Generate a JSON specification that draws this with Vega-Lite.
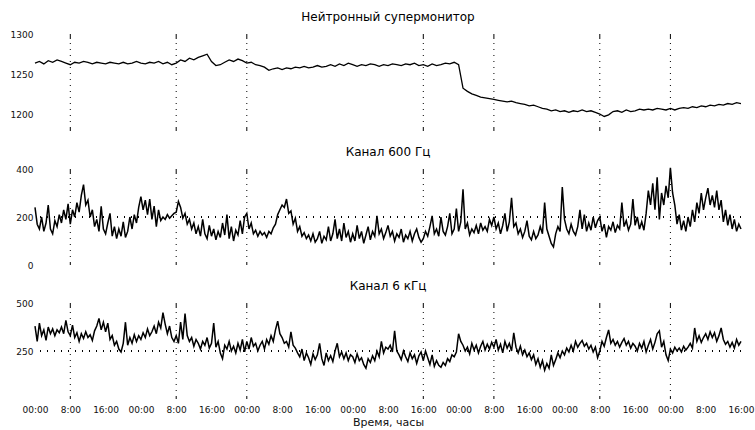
{
"$schema": "https://vega.github.io/schema/vega-lite/v6.json",
"padding": {"top": 11, "left": 10, "right": 5, "bottom": 2},
"background": "white",
"bounds": "flush",
"spacing": 38,
"datasets": {
"ev": [{"t":8},{"t":32},{"t":48},{"t":88},{"t":104},{"t":128},{"t":144}],
"nm": [
{"t":0,"v":1264},{"t":1,"v":1266},{"t":2,"v":1263},{"t":3,"v":1267},{"t":4,"v":1265},{"t":5,"v":1268},{"t":6,"v":1266},{"t":7,"v":1264},{"t":8,"v":1262},{"t":9,"v":1265},
{"t":10,"v":1264},{"t":11,"v":1266},{"t":12,"v":1265},{"t":13,"v":1263},{"t":14,"v":1265},{"t":15,"v":1264},{"t":16,"v":1263},{"t":17,"v":1265},{"t":18,"v":1264},{"t":19,"v":1263},
{"t":20,"v":1265},{"t":21,"v":1263},{"t":22,"v":1264},{"t":23,"v":1266},{"t":24,"v":1264},{"t":25,"v":1263},{"t":26,"v":1265},{"t":27,"v":1264},{"t":28,"v":1266},{"t":29,"v":1263},
{"t":30,"v":1265},{"t":31,"v":1262},{"t":32,"v":1264},{"t":33,"v":1268},{"t":34,"v":1266},{"t":35,"v":1270},{"t":36,"v":1268},{"t":37,"v":1271},{"t":38,"v":1273},{"t":39,"v":1275},
{"t":40,"v":1266},{"t":41,"v":1261},{"t":42,"v":1262},{"t":43,"v":1265},{"t":44,"v":1268},{"t":45,"v":1266},{"t":46,"v":1269},{"t":47,"v":1267},{"t":48,"v":1264},{"t":49,"v":1265},
{"t":50,"v":1262},{"t":51,"v":1261},{"t":52,"v":1259},{"t":53,"v":1255},{"t":54,"v":1257},{"t":55,"v":1258},{"t":56,"v":1256},{"t":57,"v":1258},{"t":58,"v":1257},{"t":59,"v":1259},
{"t":60,"v":1258},{"t":61,"v":1260},{"t":62,"v":1258},{"t":63,"v":1259},{"t":64,"v":1261},{"t":65,"v":1259},{"t":66,"v":1260},{"t":67,"v":1262},{"t":68,"v":1260},{"t":69,"v":1263},
{"t":70,"v":1261},{"t":71,"v":1264},{"t":72,"v":1262},{"t":73,"v":1260},{"t":74,"v":1262},{"t":75,"v":1261},{"t":76,"v":1263},{"t":77,"v":1262},{"t":78,"v":1260},{"t":79,"v":1262},
{"t":80,"v":1261},{"t":81,"v":1263},{"t":82,"v":1262},{"t":83,"v":1261},{"t":84,"v":1263},{"t":85,"v":1262},{"t":86,"v":1264},{"t":87,"v":1261},{"t":88,"v":1262},{"t":89,"v":1260},
{"t":90,"v":1263},{"t":91,"v":1261},{"t":92,"v":1262},{"t":93,"v":1264},{"t":94,"v":1263},{"t":95,"v":1265},{"t":96,"v":1262},{"t":97,"v":1233},{"t":98,"v":1229},{"t":99,"v":1226},
{"t":100,"v":1224},{"t":101,"v":1222},{"t":102,"v":1221},{"t":103,"v":1220},{"t":104,"v":1219},{"t":105,"v":1218},{"t":106,"v":1217},{"t":107,"v":1216},{"t":108,"v":1217},{"t":109,"v":1215},
{"t":110,"v":1214},{"t":111,"v":1213},{"t":112,"v":1211},{"t":113,"v":1212},{"t":114,"v":1210},{"t":115,"v":1208},{"t":116,"v":1207},{"t":117,"v":1205},{"t":118,"v":1206},{"t":119,"v":1204},
{"t":120,"v":1205},{"t":121,"v":1203},{"t":122,"v":1205},{"t":123,"v":1204},{"t":124,"v":1206},{"t":125,"v":1204},{"t":126,"v":1205},{"t":127,"v":1203},{"t":128,"v":1201},{"t":129,"v":1198},
{"t":130,"v":1200},{"t":131,"v":1204},{"t":132,"v":1205},{"t":133,"v":1203},{"t":134,"v":1206},{"t":135,"v":1204},{"t":136,"v":1205},{"t":137,"v":1207},{"t":138,"v":1206},{"t":139,"v":1207},
{"t":140,"v":1206},{"t":141,"v":1208},{"t":142,"v":1207},{"t":143,"v":1206},{"t":144,"v":1208},{"t":145,"v":1206},{"t":146,"v":1208},{"t":147,"v":1209},{"t":148,"v":1208},{"t":149,"v":1210},
{"t":150,"v":1209},{"t":151,"v":1211},{"t":152,"v":1210},{"t":153,"v":1212},{"t":154,"v":1211},{"t":155,"v":1213},{"t":156,"v":1212},{"t":157,"v":1214},{"t":158,"v":1213},{"t":159,"v":1215},
{"t":160,"v":1214}
],
"a": [
{"t":0,"v":240},{"t":0.5,"v":170},{"t":1,"v":150},{"t":1.5,"v":200},{"t":2,"v":140},{"t":2.5,"v":175},{"t":3,"v":250},{"t":3.5,"v":150},{"t":4,"v":130},{"t":4.5,"v":185},{"t":5,"v":160},{"t":5.5,"v":210},{"t":6,"v":175},{"t":6.5,"v":230},{"t":7,"v":190},{"t":7.5,"v":255},
{"t":8,"v":170},{"t":8.5,"v":230},{"t":9,"v":200},{"t":9.5,"v":260},{"t":10,"v":220},{"t":10.5,"v":290},{"t":11,"v":335},{"t":11.5,"v":250},{"t":12,"v":270},{"t":12.5,"v":200},{"t":13,"v":230},{"t":13.5,"v":160},{"t":14,"v":190},{"t":14.5,"v":140},{"t":15,"v":245},{"t":15.5,"v":150},
{"t":16,"v":130},{"t":16.5,"v":175},{"t":17,"v":215},{"t":17.5,"v":120},{"t":18,"v":160},{"t":18.5,"v":110},{"t":19,"v":150},{"t":19.5,"v":120},{"t":20,"v":180},{"t":20.5,"v":115},{"t":21,"v":140},{"t":21.5,"v":200},{"t":22,"v":150},{"t":22.5,"v":210},{"t":23,"v":175},{"t":23.5,"v":240},
{"t":24,"v":285},{"t":24.5,"v":230},{"t":25,"v":270},{"t":25.5,"v":210},{"t":26,"v":275},{"t":26.5,"v":190},{"t":27,"v":245},{"t":27.5,"v":160},{"t":28,"v":230},{"t":28.5,"v":185},{"t":29,"v":200},{"t":29.5,"v":190},{"t":30,"v":210},{"t":30.5,"v":195},{"t":31,"v":205},{"t":31.5,"v":215},
{"t":32,"v":220},{"t":32.5,"v":265},{"t":33,"v":240},{"t":33.5,"v":195},{"t":34,"v":215},{"t":34.5,"v":170},{"t":35,"v":190},{"t":35.5,"v":150},{"t":36,"v":175},{"t":36.5,"v":130},{"t":37,"v":160},{"t":37.5,"v":120},{"t":38,"v":190},{"t":38.5,"v":130},{"t":39,"v":110},{"t":39.5,"v":165},
{"t":40,"v":120},{"t":40.5,"v":150},{"t":41,"v":105},{"t":41.5,"v":140},{"t":42,"v":115},{"t":42.5,"v":175},{"t":43,"v":125},{"t":43.5,"v":210},{"t":44,"v":110},{"t":44.5,"v":160},{"t":45,"v":100},{"t":45.5,"v":145},{"t":46,"v":125},{"t":46.5,"v":185},{"t":47,"v":130},{"t":47.5,"v":200},
{"t":48,"v":215},{"t":48.5,"v":150},{"t":49,"v":175},{"t":49.5,"v":130},{"t":50,"v":145},{"t":50.5,"v":120},{"t":51,"v":140},{"t":51.5,"v":125},{"t":52,"v":135},{"t":52.5,"v":115},{"t":53,"v":140},{"t":53.5,"v":130},{"t":54,"v":155},{"t":54.5,"v":170},{"t":55,"v":210},{"t":55.5,"v":230},
{"t":56,"v":250},{"t":56.5,"v":240},{"t":57,"v":275},{"t":57.5,"v":215},{"t":58,"v":225},{"t":58.5,"v":170},{"t":59,"v":195},{"t":59.5,"v":140},{"t":60,"v":160},{"t":60.5,"v":120},{"t":61,"v":135},{"t":61.5,"v":110},{"t":62,"v":125},{"t":62.5,"v":100},{"t":63,"v":130},{"t":63.5,"v":95},
{"t":64,"v":110},{"t":64.5,"v":140},{"t":65,"v":90},{"t":65.5,"v":120},{"t":66,"v":105},{"t":66.5,"v":160},{"t":67,"v":100},{"t":67.5,"v":130},{"t":68,"v":190},{"t":68.5,"v":110},{"t":69,"v":150},{"t":69.5,"v":100},{"t":70,"v":175},{"t":70.5,"v":115},{"t":71,"v":140},{"t":71.5,"v":95},
{"t":72,"v":130},{"t":72.5,"v":100},{"t":73,"v":165},{"t":73.5,"v":110},{"t":74,"v":140},{"t":74.5,"v":90},{"t":75,"v":125},{"t":75.5,"v":160},{"t":76,"v":105},{"t":76.5,"v":140},{"t":77,"v":120},{"t":77.5,"v":205},{"t":78,"v":130},{"t":78.5,"v":150},{"t":79,"v":110},{"t":79.5,"v":135},
{"t":80,"v":165},{"t":80.5,"v":120},{"t":81,"v":140},{"t":81.5,"v":100},{"t":82,"v":130},{"t":82.5,"v":115},{"t":83,"v":150},{"t":83.5,"v":95},{"t":84,"v":125},{"t":84.5,"v":110},{"t":85,"v":140},{"t":85.5,"v":100},{"t":86,"v":130},{"t":86.5,"v":150},{"t":87,"v":115},{"t":87.5,"v":95},
{"t":88,"v":110},{"t":88.5,"v":140},{"t":89,"v":120},{"t":89.5,"v":160},{"t":90,"v":205},{"t":90.5,"v":130},{"t":91,"v":150},{"t":91.5,"v":120},{"t":92,"v":200},{"t":92.5,"v":140},{"t":93,"v":125},{"t":93.5,"v":160},{"t":94,"v":215},{"t":94.5,"v":130},{"t":95,"v":150},{"t":95.5,"v":235},
{"t":96,"v":140},{"t":96.5,"v":180},{"t":97,"v":315},{"t":97.5,"v":150},{"t":98,"v":175},{"t":98.5,"v":125},{"t":99,"v":150},{"t":99.5,"v":135},{"t":100,"v":165},{"t":100.5,"v":130},{"t":101,"v":175},{"t":101.5,"v":145},{"t":102,"v":160},{"t":102.5,"v":140},{"t":103,"v":190},{"t":103.5,"v":165},
{"t":104,"v":200},{"t":104.5,"v":150},{"t":105,"v":175},{"t":105.5,"v":130},{"t":106,"v":165},{"t":106.5,"v":215},{"t":107,"v":140},{"t":107.5,"v":180},{"t":108,"v":280},{"t":108.5,"v":160},{"t":109,"v":175},{"t":109.5,"v":130},{"t":110,"v":150},{"t":110.5,"v":115},{"t":111,"v":140},{"t":111.5,"v":185},
{"t":112,"v":120},{"t":112.5,"v":105},{"t":113,"v":140},{"t":113.5,"v":110},{"t":114,"v":125},{"t":114.5,"v":160},{"t":115,"v":130},{"t":115.5,"v":260},{"t":116,"v":150},{"t":116.5,"v":120},{"t":117,"v":90},{"t":117.5,"v":75},{"t":118,"v":130},{"t":118.5,"v":160},{"t":119,"v":140},{"t":119.5,"v":325},
{"t":120,"v":190},{"t":120.5,"v":150},{"t":121,"v":130},{"t":121.5,"v":170},{"t":122,"v":140},{"t":122.5,"v":125},{"t":123,"v":160},{"t":123.5,"v":230},{"t":124,"v":150},{"t":124.5,"v":210},{"t":125,"v":140},{"t":125.5,"v":175},{"t":126,"v":145},{"t":126.5,"v":200},{"t":127,"v":155},{"t":127.5,"v":185},
{"t":128,"v":200},{"t":128.5,"v":140},{"t":129,"v":170},{"t":129.5,"v":115},{"t":130,"v":160},{"t":130.5,"v":145},{"t":131,"v":180},{"t":131.5,"v":135},{"t":132,"v":165},{"t":132.5,"v":150},{"t":133,"v":260},{"t":133.5,"v":160},{"t":134,"v":185},{"t":134.5,"v":145},{"t":135,"v":170},{"t":135.5,"v":275},
{"t":136,"v":165},{"t":136.5,"v":200},{"t":137,"v":150},{"t":137.5,"v":180},{"t":138,"v":145},{"t":138.5,"v":215},{"t":139,"v":310},{"t":139.5,"v":250},{"t":140,"v":340},{"t":140.5,"v":230},{"t":141,"v":365},{"t":141.5,"v":190},{"t":142,"v":300},{"t":142.5,"v":250},{"t":143,"v":330},{"t":143.5,"v":280},
{"t":144,"v":405},{"t":144.5,"v":300},{"t":145,"v":250},{"t":145.5,"v":170},{"t":146,"v":210},{"t":146.5,"v":145},{"t":147,"v":185},{"t":147.5,"v":140},{"t":148,"v":200},{"t":148.5,"v":160},{"t":149,"v":230},{"t":149.5,"v":180},{"t":150,"v":260},{"t":150.5,"v":215},{"t":151,"v":300},{"t":151.5,"v":230},
{"t":152,"v":280},{"t":152.5,"v":320},{"t":153,"v":250},{"t":153.5,"v":290},{"t":154,"v":240},{"t":154.5,"v":310},{"t":155,"v":230},{"t":155.5,"v":270},{"t":156,"v":180},{"t":156.5,"v":230},{"t":157,"v":165},{"t":157.5,"v":210},{"t":158,"v":150},{"t":158.5,"v":190},{"t":159,"v":140},{"t":159.5,"v":170},
{"t":160,"v":150}
],
"b": [
{"t":0,"v":380},{"t":0.5,"v":300},{"t":1,"v":395},{"t":1.5,"v":330},{"t":2,"v":360},{"t":2.5,"v":305},{"t":3,"v":375},{"t":3.5,"v":340},{"t":4,"v":365},{"t":4.5,"v":330},{"t":5,"v":360},{"t":5.5,"v":345},{"t":6,"v":375},{"t":6.5,"v":340},{"t":7,"v":410},{"t":7.5,"v":350},
{"t":8,"v":330},{"t":8.5,"v":385},{"t":9,"v":320},{"t":9.5,"v":345},{"t":10,"v":300},{"t":10.5,"v":340},{"t":11,"v":315},{"t":11.5,"v":350},{"t":12,"v":320},{"t":12.5,"v":335},{"t":13,"v":305},{"t":13.5,"v":355},{"t":14,"v":380},{"t":14.5,"v":420},{"t":15,"v":360},{"t":15.5,"v":400},
{"t":16,"v":350},{"t":16.5,"v":395},{"t":17,"v":310},{"t":17.5,"v":330},{"t":18,"v":280},{"t":18.5,"v":300},{"t":19,"v":260},{"t":19.5,"v":245},{"t":20,"v":290},{"t":20.5,"v":400},{"t":21,"v":280},{"t":21.5,"v":320},{"t":22,"v":290},{"t":22.5,"v":335},{"t":23,"v":300},{"t":23.5,"v":330},
{"t":24,"v":310},{"t":24.5,"v":345},{"t":25,"v":320},{"t":25.5,"v":365},{"t":26,"v":330},{"t":26.5,"v":350},{"t":27,"v":380},{"t":27.5,"v":340},{"t":28,"v":400},{"t":28.5,"v":370},{"t":29,"v":450},{"t":29.5,"v":390},{"t":30,"v":340},{"t":30.5,"v":380},{"t":31,"v":320},{"t":31.5,"v":300},
{"t":32,"v":330},{"t":32.5,"v":290},{"t":33,"v":400},{"t":33.5,"v":310},{"t":34,"v":445},{"t":34.5,"v":330},{"t":35,"v":300},{"t":35.5,"v":320},{"t":36,"v":275},{"t":36.5,"v":310},{"t":37,"v":290},{"t":37.5,"v":260},{"t":38,"v":300},{"t":38.5,"v":280},{"t":39,"v":320},{"t":39.5,"v":265},
{"t":40,"v":290},{"t":40.5,"v":395},{"t":41,"v":270},{"t":41.5,"v":300},{"t":42,"v":240},{"t":42.5,"v":210},{"t":43,"v":280},{"t":43.5,"v":260},{"t":44,"v":300},{"t":44.5,"v":250},{"t":45,"v":275},{"t":45.5,"v":240},{"t":46,"v":290},{"t":46.5,"v":255},{"t":47,"v":310},{"t":47.5,"v":245},
{"t":48,"v":300},{"t":48.5,"v":260},{"t":49,"v":320},{"t":49.5,"v":275},{"t":50,"v":290},{"t":50.5,"v":250},{"t":51,"v":280},{"t":51.5,"v":300},{"t":52,"v":260},{"t":52.5,"v":310},{"t":53,"v":285},{"t":53.5,"v":330},{"t":54,"v":300},{"t":54.5,"v":360},{"t":55,"v":405},{"t":55.5,"v":340},
{"t":56,"v":320},{"t":56.5,"v":290},{"t":57,"v":300},{"t":57.5,"v":270},{"t":58,"v":350},{"t":58.5,"v":280},{"t":59,"v":265},{"t":59.5,"v":240},{"t":60,"v":220},{"t":60.5,"v":260},{"t":61,"v":200},{"t":61.5,"v":240},{"t":62,"v":215},{"t":62.5,"v":180},{"t":63,"v":235},{"t":63.5,"v":205},
{"t":64,"v":230},{"t":64.5,"v":290},{"t":65,"v":210},{"t":65.5,"v":175},{"t":66,"v":240},{"t":66.5,"v":200},{"t":67,"v":225},{"t":67.5,"v":195},{"t":68,"v":250},{"t":68.5,"v":290},{"t":69,"v":220},{"t":69.5,"v":245},{"t":70,"v":210},{"t":70.5,"v":240},{"t":71,"v":200},{"t":71.5,"v":230},
{"t":72,"v":220},{"t":72.5,"v":190},{"t":73,"v":235},{"t":73.5,"v":200},{"t":74,"v":215},{"t":74.5,"v":180},{"t":75,"v":160},{"t":75.5,"v":210},{"t":76,"v":190},{"t":76.5,"v":225},{"t":77,"v":200},{"t":77.5,"v":250},{"t":78,"v":220},{"t":78.5,"v":300},{"t":79,"v":240},{"t":79.5,"v":270},
{"t":80,"v":260},{"t":80.5,"v":280},{"t":81,"v":245},{"t":81.5,"v":355},{"t":82,"v":250},{"t":82.5,"v":230},{"t":83,"v":205},{"t":83.5,"v":250},{"t":84,"v":220},{"t":84.5,"v":195},{"t":85,"v":240},{"t":85.5,"v":210},{"t":86,"v":230},{"t":86.5,"v":185},{"t":87,"v":225},{"t":87.5,"v":245},
{"t":88,"v":200},{"t":88.5,"v":250},{"t":89,"v":215},{"t":89.5,"v":180},{"t":90,"v":230},{"t":90.5,"v":170},{"t":91,"v":200},{"t":91.5,"v":175},{"t":92,"v":165},{"t":92.5,"v":190},{"t":93,"v":175},{"t":93.5,"v":210},{"t":94,"v":195},{"t":94.5,"v":230},{"t":95,"v":220},{"t":95.5,"v":245},
{"t":96,"v":340},{"t":96.5,"v":300},{"t":97,"v":280},{"t":97.5,"v":250},{"t":98,"v":270},{"t":98.5,"v":235},{"t":99,"v":290},{"t":99.5,"v":255},{"t":100,"v":280},{"t":100.5,"v":240},{"t":101,"v":275},{"t":101.5,"v":300},{"t":102,"v":255},{"t":102.5,"v":285},{"t":103,"v":260},{"t":103.5,"v":295},
{"t":104,"v":270},{"t":104.5,"v":310},{"t":105,"v":255},{"t":105.5,"v":285},{"t":106,"v":240},{"t":106.5,"v":300},{"t":107,"v":265},{"t":107.5,"v":290},{"t":108,"v":250},{"t":108.5,"v":345},{"t":109,"v":270},{"t":109.5,"v":240},{"t":110,"v":275},{"t":110.5,"v":230},{"t":111,"v":255},{"t":111.5,"v":220},
{"t":112,"v":240},{"t":112.5,"v":205},{"t":113,"v":230},{"t":113.5,"v":180},{"t":114,"v":210},{"t":114.5,"v":165},{"t":115,"v":200},{"t":115.5,"v":150},{"t":116,"v":185},{"t":116.5,"v":160},{"t":117,"v":230},{"t":117.5,"v":175},{"t":118,"v":205},{"t":118.5,"v":240},{"t":119,"v":215},{"t":119.5,"v":250},
{"t":120,"v":230},{"t":120.5,"v":265},{"t":121,"v":245},{"t":121.5,"v":280},{"t":122,"v":250},{"t":122.5,"v":300},{"t":123,"v":270},{"t":123.5,"v":290},{"t":124,"v":305},{"t":124.5,"v":275},{"t":125,"v":290},{"t":125.5,"v":260},{"t":126,"v":280},{"t":126.5,"v":245},{"t":127,"v":270},{"t":127.5,"v":215},
{"t":128,"v":250},{"t":128.5,"v":300},{"t":129,"v":275},{"t":129.5,"v":320},{"t":130,"v":360},{"t":130.5,"v":290},{"t":131,"v":310},{"t":131.5,"v":280},{"t":132,"v":300},{"t":132.5,"v":270},{"t":133,"v":295},{"t":133.5,"v":315},{"t":134,"v":280},{"t":134.5,"v":300},{"t":135,"v":265},{"t":135.5,"v":290},
{"t":136,"v":275},{"t":136.5,"v":250},{"t":137,"v":290},{"t":137.5,"v":265},{"t":138,"v":300},{"t":138.5,"v":245},{"t":139,"v":280},{"t":139.5,"v":310},{"t":140,"v":260},{"t":140.5,"v":295},{"t":141,"v":340},{"t":141.5,"v":355},{"t":142,"v":270},{"t":142.5,"v":300},{"t":143,"v":230},{"t":143.5,"v":200},
{"t":144,"v":260},{"t":144.5,"v":240},{"t":145,"v":270},{"t":145.5,"v":250},{"t":146,"v":265},{"t":146.5,"v":245},{"t":147,"v":275},{"t":147.5,"v":255},{"t":148,"v":270},{"t":148.5,"v":290},{"t":149,"v":265},{"t":149.5,"v":370},{"t":150,"v":300},{"t":150.5,"v":330},{"t":151,"v":295},{"t":151.5,"v":320},
{"t":152,"v":340},{"t":152.5,"v":310},{"t":153,"v":350},{"t":153.5,"v":320},{"t":154,"v":345},{"t":154.5,"v":300},{"t":155,"v":330},{"t":155.5,"v":370},{"t":156,"v":310},{"t":156.5,"v":285},{"t":157,"v":300},{"t":157.5,"v":270},{"t":158,"v":295},{"t":158.5,"v":265},{"t":159,"v":310},{"t":159.5,"v":280},
{"t":160,"v":300}
]
},
"vconcat": [
{
"width": 706, "height": 97,
"title": {"text": "Нейтронный супермонитор"},
"layer": [
{"data": {"name": "ev"}, "mark": {"type": "rule", "color": "black", "strokeWidth": 1, "strokeDash": [5,4,1,5,1,5,1,5,1,5,1,5,1,5,1,5,1,5,1,5,1,5,1,5,1,5,1,5,1,5,5,4]},
 "encoding": {"x": {"field": "t", "type": "quantitative", "scale": {"domain": [0,160], "nice": false}, "axis": null}}},
{"data": {"name": "nm"}, "mark": {"type": "line", "color": "black", "strokeWidth": 1.3},
 "encoding": {"x": {"field": "t", "type": "quantitative", "scale": {"domain": [0,160], "nice": false}, "axis": null},
  "y": {"field": "v", "type": "quantitative", "scale": {"domain": [1180,1300], "nice": false, "zero": false}, "axis": {"values": [1200,1250,1300], "format": "d", "title": null}}}}
]
},
{
"width": 706, "height": 96,
"title": {"text": "Канал 600 Гц"},
"layer": [
{"data": {"name": "ev"}, "mark": {"type": "rule", "color": "black", "strokeWidth": 1, "strokeDash": [5,4,1,5,1,5,1,5,1,5,1,5,1,5,1,5,1,5,1,5,1,5,1,5,1,5,1,5,1,5,5,4]},
 "encoding": {"x": {"field": "t", "type": "quantitative", "scale": {"domain": [0,160], "nice": false}, "axis": null}}},
{"data": {"name": "ev"}, "mark": {"type": "rule", "color": "black", "strokeWidth": 1, "strokeDash": [1,6]},
 "encoding": {"y": {"datum": 200, "type": "quantitative"}}},
{"data": {"name": "a"}, "mark": {"type": "line", "color": "black", "strokeWidth": 1.5},
 "encoding": {"x": {"field": "t", "type": "quantitative", "scale": {"domain": [0,160], "nice": false}, "axis": null},
  "y": {"field": "v", "type": "quantitative", "scale": {"domain": [0,400], "nice": false}, "axis": {"values": [0,200,400], "format": "d", "title": null}}}}
]
},
{
"width": 706, "height": 96,
"title": {"text": "Канал 6 кГц"},
"layer": [
{"data": {"name": "ev"}, "mark": {"type": "rule", "color": "black", "strokeWidth": 1, "strokeDash": [5,4,1,5,1,5,1,5,1,5,1,5,1,5,1,5,1,5,1,5,1,5,1,5,1,5,1,5,1,5,5,4]},
 "encoding": {"x": {"field": "t", "type": "quantitative", "scale": {"domain": [0,160], "nice": false},
   "axis": {"values": [0,8,16,24,32,40,48,56,64,72,80,88,96,104,112,120,128,136,144,152,160], "labelExpr": "datum.value % 24 == 0 ? '00:00' : (datum.value % 24) + ':00'", "title": "Время, часы", "labelPadding": 6, "titleFontSize": 11, "titleFontWeight": "normal", "titlePadding": 2, "labelOverlap": false, "labelFlush": false}}}},
{"data": {"name": "ev"}, "mark": {"type": "rule", "color": "black", "strokeWidth": 1, "strokeDash": [1,6]},
 "encoding": {"y": {"datum": 250, "type": "quantitative"}}},
{"data": {"name": "b"}, "mark": {"type": "line", "color": "black", "strokeWidth": 1.5},
 "encoding": {"x": {"field": "t", "type": "quantitative", "scale": {"domain": [0,160], "nice": false},
   "axis": {"values": [0,8,16,24,32,40,48,56,64,72,80,88,96,104,112,120,128,136,144,152,160], "labelExpr": "datum.value % 24 == 0 ? '00:00' : (datum.value % 24) + ':00'", "title": "Время, часы", "labelPadding": 6, "titleFontSize": 11, "titleFontWeight": "normal", "titlePadding": 2, "labelOverlap": false, "labelFlush": false}},
  "y": {"field": "v", "type": "quantitative", "scale": {"domain": [0,500], "nice": false}, "axis": {"values": [250,500], "format": "d", "title": null}}}}
]
}
],
"config": {
"view": {"stroke": null},
"font": "DejaVu Sans",
"title": {"font": "DejaVu Sans", "fontSize": 12, "fontWeight": "normal", "color": "black", "offset": 6, "frame": "group", "anchor": "middle"},
"axis": {"domain": false, "ticks": false, "grid": false, "labelFont": "DejaVu Sans", "labelFontSize": 9, "labelColor": "#111", "labelPadding": 2, "titleFont": "DejaVu Sans", "titleColor": "#111", "labelOverlap": false, "labelFlush": false}
}
}
